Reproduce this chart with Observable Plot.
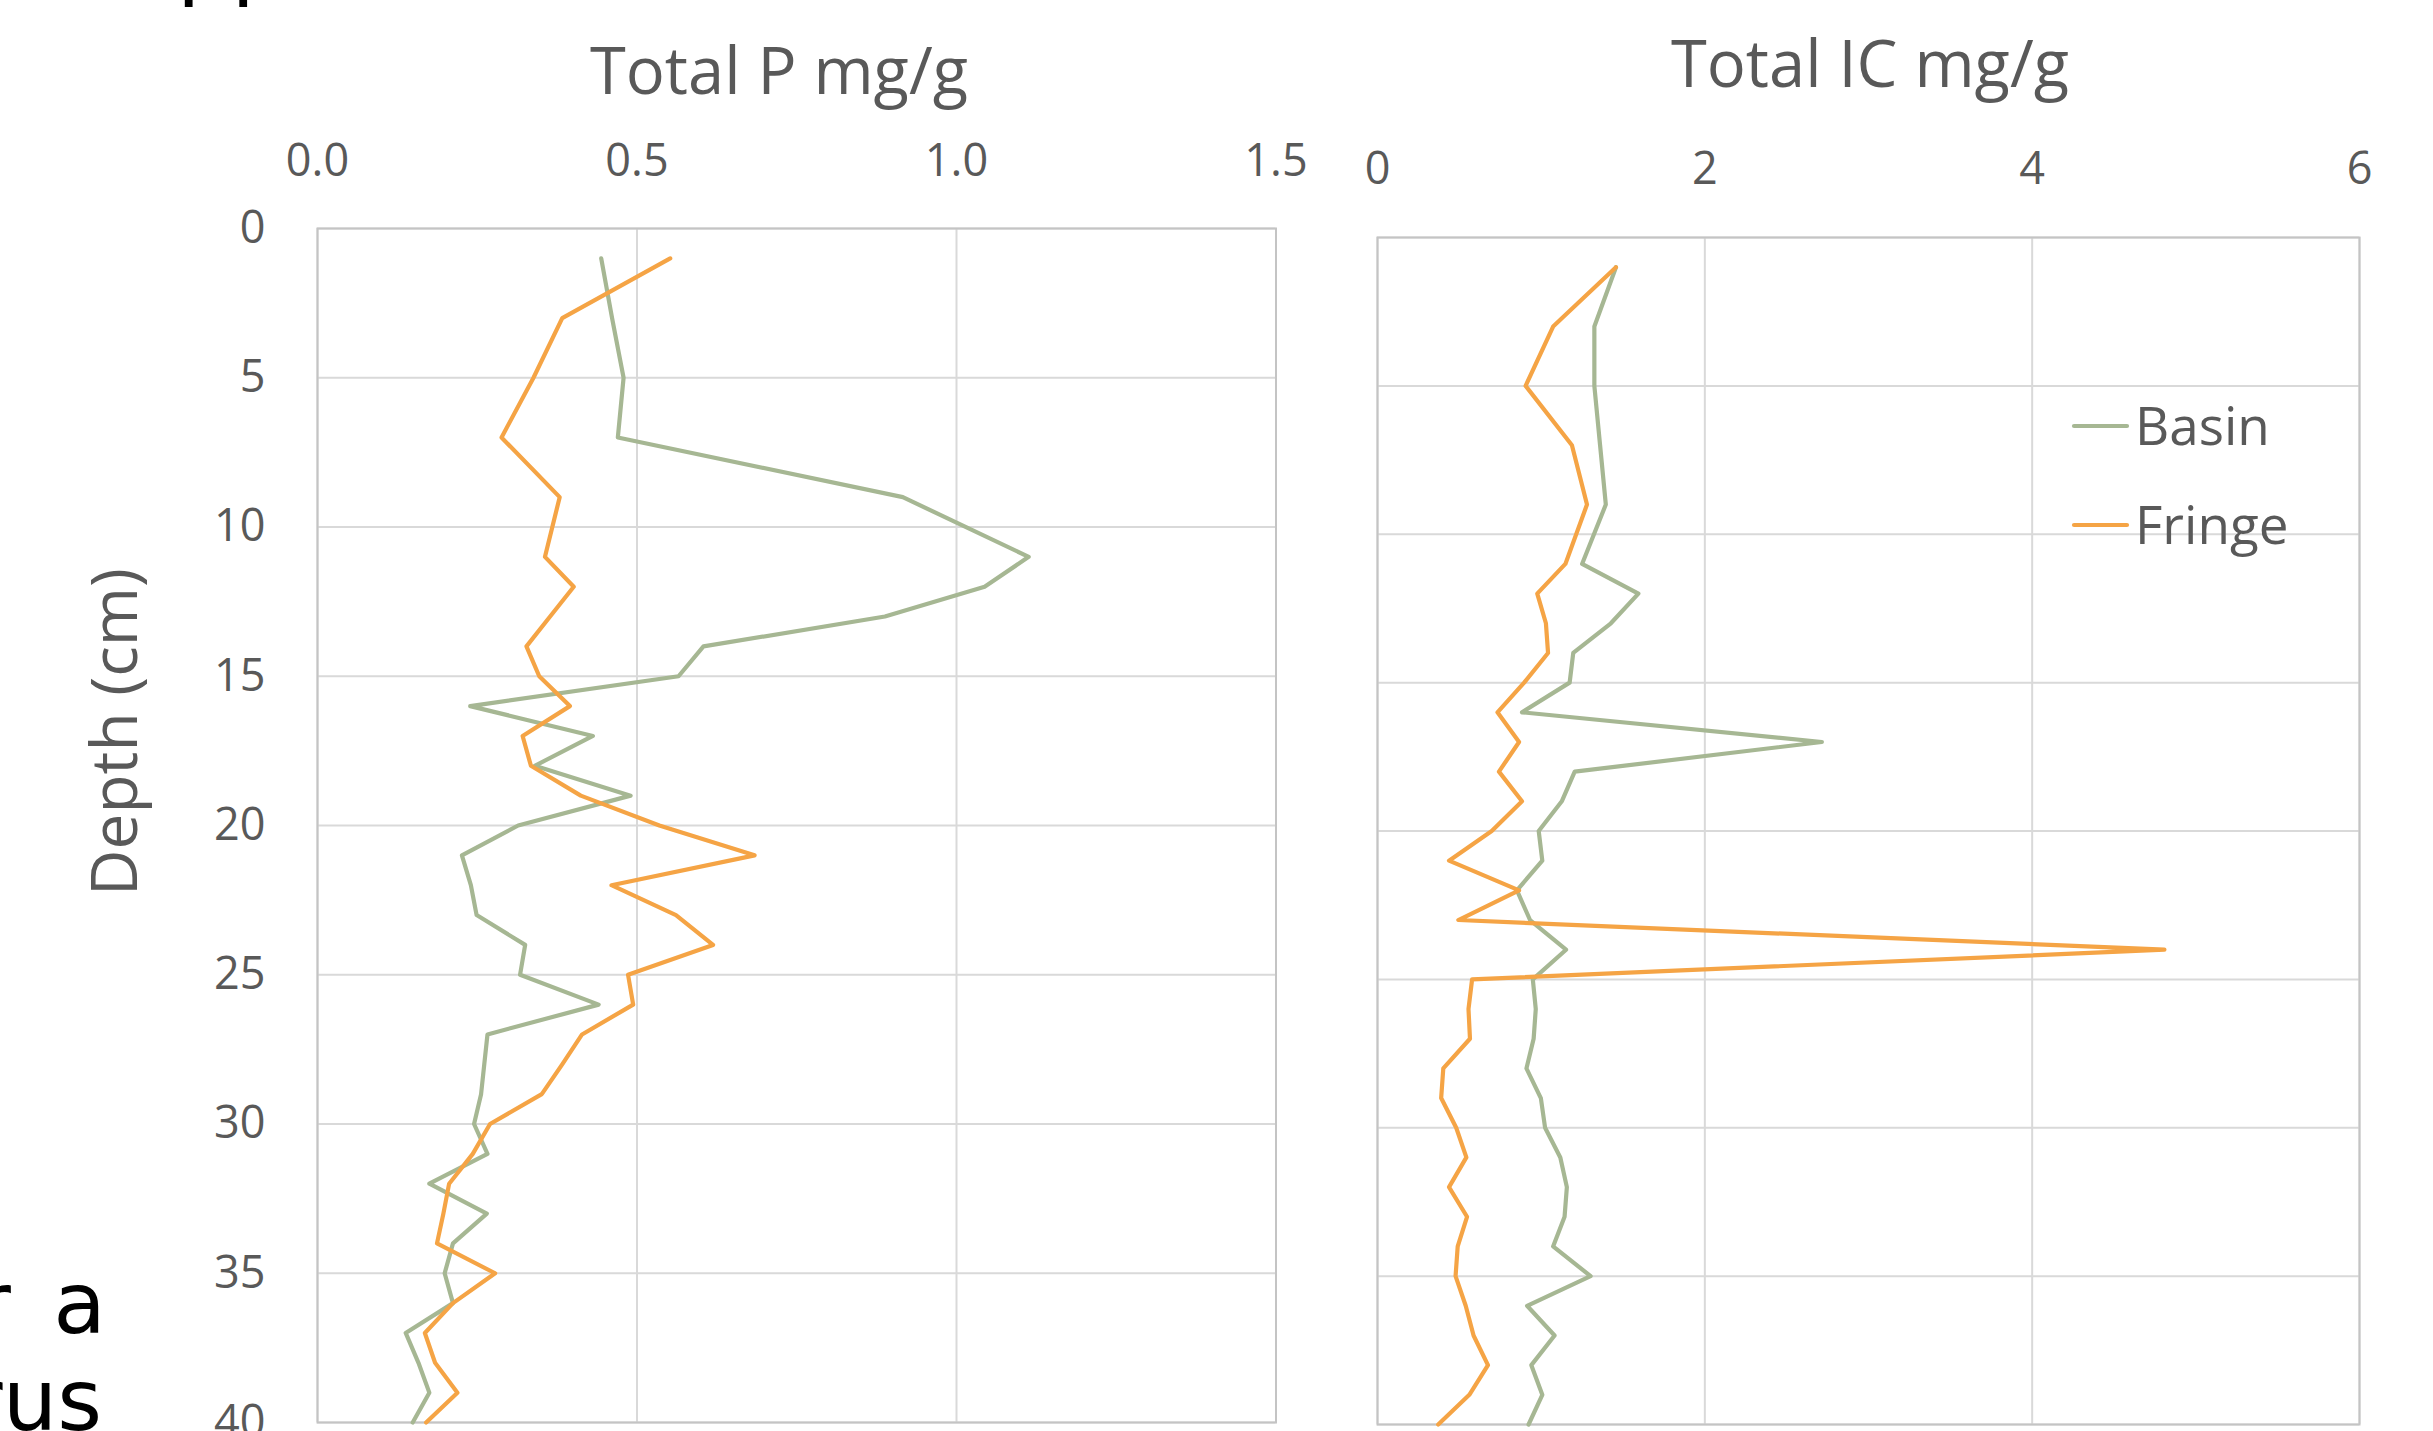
<!DOCTYPE html>
<html>
<head>
<meta charset="utf-8">
<script src="https://cdn.jsdelivr.net/npm/d3@7"></script>
<script src="https://cdn.jsdelivr.net/npm/@observablehq/plot@0.6"></script>
<style>
  html, body { margin: 0; padding: 0; background: #fff; }
  #page { position: relative; width: 2433px; height: 1431px; overflow: hidden; background: #fff; }
  #page > svg { position: absolute; top: 0; }
</style>
</head>
<body>
<div id="page"></div>
<script>
// Core sampling depths (cm)
const depths = [1, 3, 5, 7, 9, 11, 12, 13, 14, 15, 16, 17, 18, 19, 20, 21, 22, 23, 24, 25,
                26, 27, 28, 29, 30, 31, 32, 33, 34, 35, 36, 37, 38, 39, 40];

// Total P (mg/g)
const basinP  = [0.444, 0.461, 0.479, 0.470, 0.916, 1.113, 1.044, 0.888, 0.604, 0.565,
                 0.239, 0.431, 0.340, 0.490, 0.314, 0.226, 0.240, 0.249, 0.325, 0.317,
                 0.440, 0.266, 0.261, 0.256, 0.245, 0.266, 0.175, 0.265, 0.212, 0.199,
                 0.212, 0.138, 0.158, 0.175, 0.149];
const fringeP = [0.552, 0.383, 0.338, 0.288, 0.379, 0.356, 0.401, 0.364, 0.327, 0.347,
                 0.395, 0.321, 0.334, 0.412, 0.535, 0.684, 0.460, 0.561, 0.619, 0.486,
                 0.494, 0.414, 0.383, 0.351, 0.270, 0.243, 0.206, 0.197, 0.187, 0.278,
                 0.212, 0.168, 0.184, 0.219, 0.170];

// Total IC (mg/g)
const basinIC  = [1.457, 1.325, 1.325, 1.360, 1.395, 1.250, 1.594, 1.426, 1.196, 1.174,
                  0.883, 2.715, 1.205, 1.126, 0.985, 1.007, 0.852, 0.932, 1.152, 0.949,
                  0.967, 0.954, 0.910, 0.998, 1.024, 1.117, 1.157, 1.143, 1.073, 1.302,
                  0.914, 1.082, 0.940, 1.007, 0.923];
const fringeIC = [1.457, 1.073, 0.905, 1.188, 1.280, 1.148, 0.976, 1.029, 1.042, 0.896,
                  0.733, 0.865, 0.742, 0.883, 0.698, 0.437, 0.865, 0.494, 4.808, 0.578,
                  0.556, 0.565, 0.402, 0.389, 0.481, 0.543, 0.437, 0.547, 0.490, 0.477,
                  0.539, 0.587, 0.675, 0.561, 0.371];

const seriesNames = ["Basin", "Fringe"];
const seriesColors = ["#a6b793", "#f5a445"];
const pTicks = [0, 0.5, 1.0, 1.5];
const icTicks = [0, 2, 4, 6];
const depthTicks = [0, 5, 10, 15, 20, 25, 30, 35, 40];

function rows(basin, fringe) {
  return [
    ...depths.map((d, i) => ({series: "Basin", depth: d, value: basin[i]})),
    ...depths.map((d, i) => ({series: "Fringe", depth: d, value: fringe[i]}))
  ];
}

const textColor = "#595959";
const font = '"Open Sans", sans-serif';

function panel({data, xDomain, xTicks, xFormat, width, mLeft, mRight, mTop, mBottom, tickPad, showY}) {
  return Plot.plot({
    width, height: 1431,
    marginLeft: mLeft, marginRight: mRight, marginTop: mTop, marginBottom: mBottom,
    style: {fontFamily: font, fontSize: "45px", color: textColor, background: "transparent", overflow: "visible"},
    x: {domain: xDomain},
    y: {domain: [0, 40], reverse: true},
    color: {domain: seriesNames, range: seriesColors},
    marks: [
      Plot.gridX(xTicks, {stroke: "#d9d9d9", strokeOpacity: 1, strokeWidth: 2}),
      Plot.gridY(depthTicks, {stroke: "#d9d9d9", strokeOpacity: 1, strokeWidth: 2}),
      Plot.frame({stroke: "#c4c4c4", strokeWidth: 2}),
      Plot.axisX(xTicks, {anchor: "top", tickFormat: xFormat, tickSize: 0, tickPadding: tickPad,
                          label: null, fontSize: 45, fill: textColor}),
      showY
        ? Plot.axisY(depthTicks, {anchor: "left", tickSize: 0, tickPadding: 52, label: null,
                                  fontSize: 45, fill: textColor})
        : Plot.axisY({ticks: [], label: null, tickSize: 0}),
      Plot.line(data, {x: "value", y: "depth", z: "series", stroke: "series",
                       strokeWidth: 4.2, strokeLinejoin: "round", strokeLinecap: "round"})
    ]
  });
}

const page = document.getElementById("page");

const leftChart = panel({
  data: rows(basinP, fringeP), xDomain: [0, 1.5], xTicks: pTicks, xFormat: d3.format(".1f"),
  width: 1300, mLeft: 317, mRight: 24.5, mTop: 228, mBottom: 9, tickPad: 53, showY: true
});
leftChart.style.left = "0px";
page.appendChild(leftChart);

const rightChart = panel({
  data: rows(basinIC, fringeIC), xDomain: [0, 6], xTicks: icTicks, xFormat: d3.format("d"),
  width: 1133, mLeft: 77, mRight: 74, mTop: 237, mBottom: 7, tickPad: 54, showY: false
});
rightChart.style.left = "1300px";
page.appendChild(rightChart);

// Titles, depth label, legend and the surrounding slide text
const svg = d3.select(page).append("svg")
  .attr("width", 2433).attr("height", 1431)
  .style("left", "0px").style("pointer-events", "none");

svg.append("text").attr("x", 779).attr("y", 94).attr("text-anchor", "middle")
  .attr("font-family", font).attr("font-size", 65).attr("fill", textColor)
  .text("Total P mg/g");
svg.append("text").attr("x", 1870).attr("y", 87).attr("text-anchor", "middle")
  .attr("font-family", font).attr("font-size", 65).attr("fill", textColor)
  .text("Total IC mg/g");

svg.append("text").attr("transform", "translate(137,732) rotate(-90)")
  .attr("text-anchor", "middle").attr("font-family", font).attr("font-size", 64)
  .attr("fill", textColor).text("Depth (cm)");

const legend = svg.append("g");
seriesNames.forEach((name, i) => {
  const y = 426 + i * 99;
  legend.append("line").attr("x1", 2074).attr("x2", 2127).attr("y1", y).attr("y2", y)
    .attr("stroke", seriesColors[i]).attr("stroke-width", 4.2).attr("stroke-linecap", "round");
  legend.append("text").attr("x", 2135).attr("y", y + 19)
    .attr("font-family", font).attr("font-size", 53).attr("fill", textColor).text(name);
});

const slideFont = '"DejaVu Sans", Verdana, sans-serif';
svg.append("text").attr("x", 177).attr("y", -11).attr("font-family", slideFont)
  .attr("font-size", 86).attr("fill", "#000").text("pp");
svg.append("text").attr("x", 106).attr("y", 1333).attr("text-anchor", "end")
  .attr("font-family", slideFont).attr("font-size", 86).attr("fill", "#000")
  .attr("word-spacing", 15).text("r a");
svg.append("text").attr("x", 102).attr("y", 1430).attr("text-anchor", "end")
  .attr("font-family", slideFont).attr("font-size", 86).attr("fill", "#000").text("rus");
</script>
</body>
</html>
